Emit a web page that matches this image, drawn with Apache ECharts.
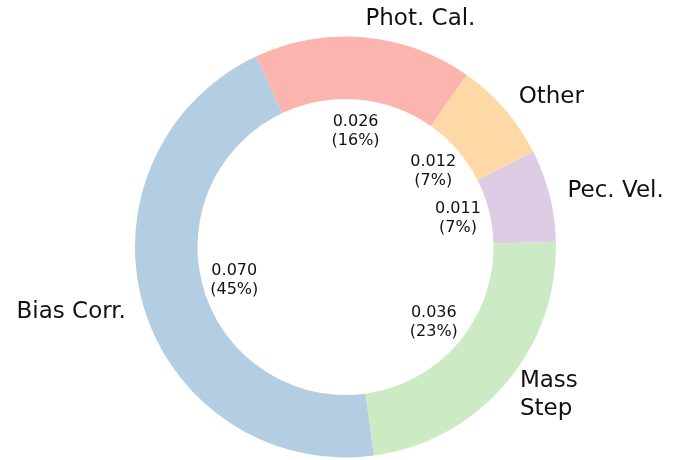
<!DOCTYPE html>
<html>
<head>
<meta charset="utf-8">
<script src="https://cdn.jsdelivr.net/npm/echarts@6/dist/echarts.min.js"></script>
<style>
html,body{margin:0;padding:0;background:#fff;}
#chart{width:694px;height:460px;}
</style>
</head>
<body>
<div id="chart"></div>
<script>
// Data (counter-clockwise order starting from the right)
const categories = ['Pec. Vel.', 'Other', 'Phot. Cal.', 'Bias Corr.', 'Mass\nStep'];
const values = [0.011, 0.012, 0.026, 0.070, 0.036];
const percentLabels = [7, 7, 16, 45, 23];
const colors = ['#decbe4', '#fed9a6', '#fbb4ae', '#b3cde3', '#ccebc5'];

const chart = echarts.init(document.getElementById('chart'), null, {renderer: 'canvas'});
const font = 'DejaVu Sans';
const center = [345.5, 247];
const startAngle = 1.4;

const mainData = categories.map((c, i) => ({
  name: c, value: values[i], itemStyle: {color: colors[i]}
}));
const labelData = categories.map((c, i) => ({
  name: c, value: values[i]
}));

chart.setOption({
  animation: false,
  backgroundColor: '#ffffff',
  series: [
    {
      type: 'pie',
      center: center,
      radius: [148, 210.5],
      startAngle: startAngle,
      clockwise: false,
      avoidLabelOverlap: false,
      silent: true,
      itemStyle: {borderWidth: 0},
      label: {
        show: true,
        position: 'outside',
        formatter: '{b}',
        fontFamily: font,
        fontSize: 23,
        lineHeight: 28,
        color: '#111',
        distanceToLabelLine: 0
      },
      labelLine: {show: false, length: 18.5, length2: 0},
      emphasis: {disabled: true},
      data: mainData
    },
    {
      type: 'pie',
      center: center,
      radius: [0, 226],
      startAngle: startAngle,
      clockwise: false,
      avoidLabelOverlap: false,
      silent: true,
      itemStyle: {color: 'rgba(0,0,0,0)', borderWidth: 0},
      label: {
        show: true,
        position: 'inside',
        formatter: p => values[p.dataIndex].toFixed(3) + '\n(' + percentLabels[p.dataIndex] + '%)',
        fontFamily: font,
        fontSize: 16,
        lineHeight: 19,
        color: '#111'
      },
      labelLine: {show: false},
      emphasis: {disabled: true},
      data: labelData
    }
  ]
});
</script>
</body>
</html>
